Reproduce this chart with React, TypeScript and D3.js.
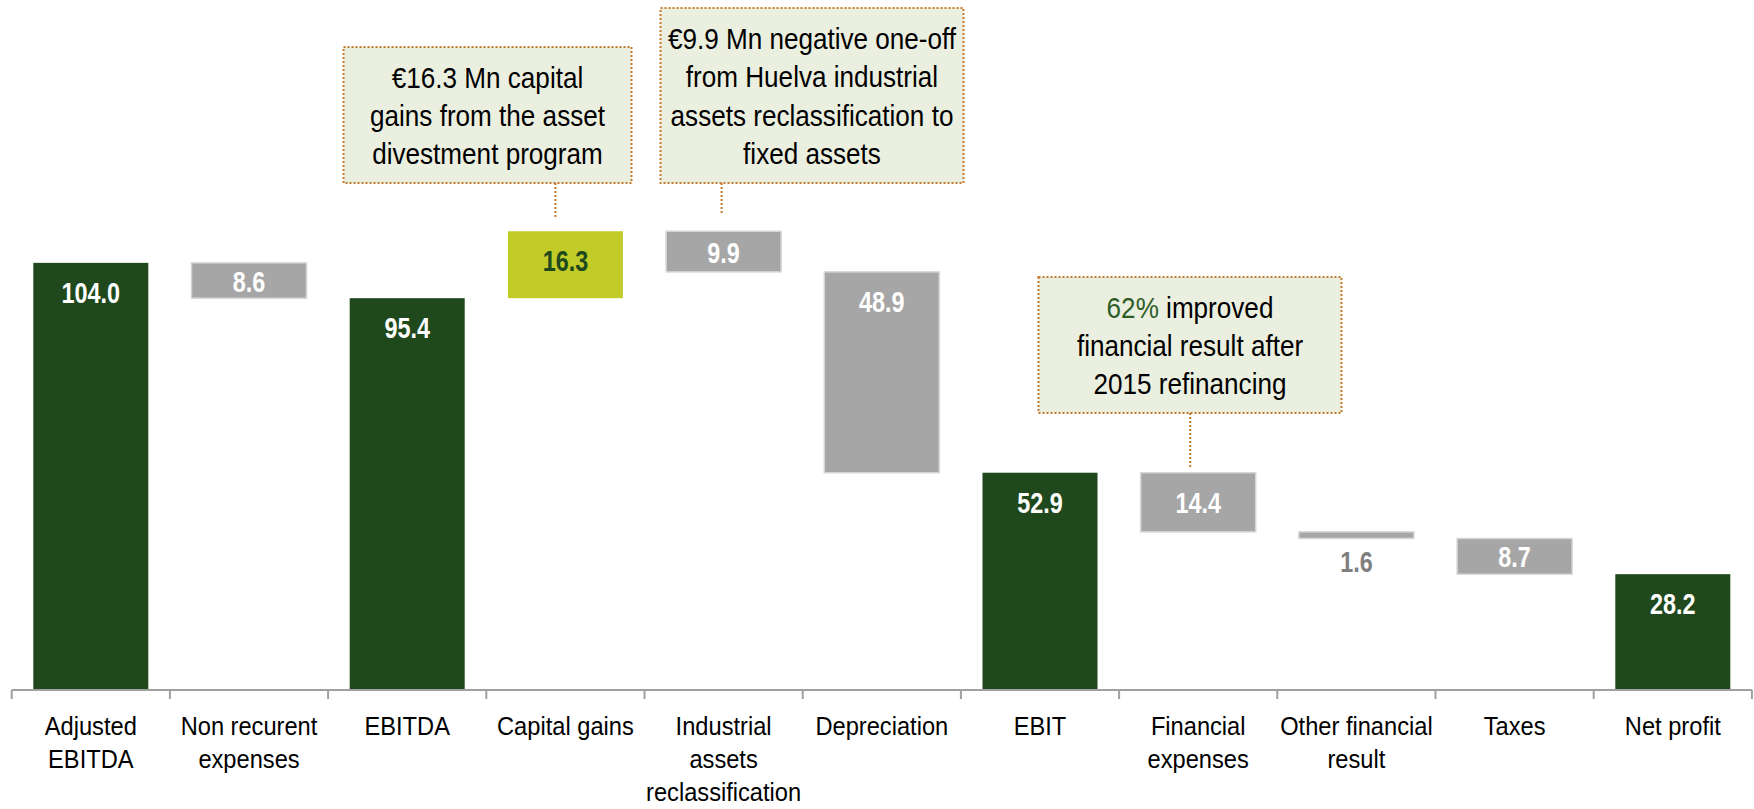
import * as d3 from 'd3';
import type { ReactNode } from 'react';

const W = 1754;
const H = 809;

const categories = [
  ['Adjusted', 'EBITDA'],
  ['Non recurent', 'expenses'],
  ['EBITDA'],
  ['Capital gains'],
  ['Industrial', 'assets', 'reclassification'],
  ['Depreciation'],
  ['EBIT'],
  ['Financial', 'expenses'],
  ['Other financial', 'result'],
  ['Taxes'],
  ['Net profit'],
];
const values = [104.0, -8.6, 95.4, 16.3, -9.9, -48.9, 52.9, -14.4, -1.6, -8.7, 28.2];
const kinds = ['total', 'neg', 'total', 'pos', 'neg', 'neg', 'total', 'neg', 'neg', 'neg', 'total'];

const notes = [
  { cat: 3, lines: [['€16.3 Mn capital'], ['gains from the asset'], ['divestment program']] },
  { cat: 4, lines: [['€9.9 Mn negative one-off'], ['from Huelva industrial'], ['assets reclassification to'], ['fixed assets']] },
  { cat: 7, lines: [['62%', ' improved'], ['financial result after'], ['2015 refinancing']] },
];
// box layout (px) for each note: centre x, width, top, bottom, connector x shift, gap to bar
const noteBoxes = [
  { cx: 487.5, w: 288, top: 47, bottom: 183, dx: -10, gap: 14 },
  { cx: 812, w: 303, top: 8, bottom: 183, dx: -2, gap: 18 },
  { cx: 1190, w: 303, top: 277, bottom: 413, dx: -8, gap: 5 },
];

const COL = { total: '#1f491d', pos: '#c2cc29', neg: '#a6a6a6' };
const FONT = "'Liberation Sans', Arial, sans-serif";

// narrow text: Liberation Sans squeezed horizontally
function Narrow({ x, y, sx, children, ...rest }: { x: number; y: number; sx: number; children: ReactNode; [k: string]: any }) {
  return (
    <g transform={`translate(${x},${y}) scale(${sx},1)`}>
      <text x={0} y={0} textAnchor="middle" {...rest}>{children}</text>
    </g>
  );
}

export default function App() {
  const keys = categories.map((c) => c.join(' '));
  const x = d3.scaleBand().domain(keys).range([11.7, 1751.9]).paddingInner(0.273).paddingOuter(0.1365);
  const y = d3.scaleLinear().domain([0, 168]).range([690, 0]);
  const step = x.step();
  const x0 = 11.7;
  const cx = (k: string) => (x(k) ?? 0) + x.bandwidth() / 2;

  let run = 0;
  const bars = values.map((v, i) => {
    let a: number, b: number;
    if (kinds[i] === 'total') { a = 0; b = v; run = v; }
    else { a = run; b = run + v; run = b; }
    const top = y(Math.max(a, b));
    const bot = y(Math.min(a, b));
    return { key: keys[i], v, kind: kinds[i], top, bot, h: bot - top };
  });

  return (
    <svg width={W} height={H} style={{ position: 'absolute', left: 0, top: 0, background: '#fff' }} fontFamily={FONT}>
      {bars.map((d, i) => (
        <rect key={'b' + i} x={x(d.key)} y={d.top} width={x.bandwidth()} height={Math.max(d.h, 1)}
          fill={COL[d.kind as keyof typeof COL]}
          stroke={d.kind === 'neg' ? '#d6d6d6' : 'none'} strokeWidth={1.5} />
      ))}
      {bars.map((d, i) => {
        const small = d.h < 20;
        const ty = small ? d.bot + 34 : d.top + Math.min(40, d.h / 2 + 11);
        const fill = small ? '#7f7f7f' : d.kind === 'pos' ? '#1f491d' : '#fff';
        return (
          <Narrow key={'l' + i} x={cx(d.key)} y={ty} sx={0.78} fontSize={30} fontWeight="bold" fill={fill}>
            {Math.abs(d.v).toFixed(1)}
          </Narrow>
        );
      })}
      {/* axis */}
      <line x1={x0} x2={x0 + step * keys.length} y1={690} y2={690} stroke="#a0a0a0" strokeWidth={2} />
      {d3.range(keys.length + 1).map((i) => (
        <line key={'t' + i} x1={x0 + i * step} x2={x0 + i * step} y1={690} y2={699} stroke="#a0a0a0" strokeWidth={2} />
      ))}
      {categories.map((lines, i) => (
        <Narrow key={'c' + i} x={cx(keys[i])} y={735} sx={0.91} fontSize={26} fill="#000">
          {lines.map((ln, j) => (
            <tspan key={j} x={0} dy={j === 0 ? 0 : 33}>{ln}</tspan>
          ))}
        </Narrow>
      ))}
      {/* annotations */}
      {notes.map((n, k) => {
        const b = noteBoxes[k];
        const bar = bars[n.cat];
        const lx = cx(bar.key) + b.dx;
        const mid = (b.top + b.bottom) / 2;
        const lh = 38.5;
        const first = mid - ((n.lines.length - 1) * lh) / 2 + 11;
        return (
          <g key={'n' + k}>
            <line x1={lx} x2={lx} y1={b.bottom} y2={bar.top - b.gap} stroke="#c47a2c" strokeWidth={2} strokeDasharray="2 2" />
            <rect x={b.cx - b.w / 2} y={b.top} width={b.w} height={b.bottom - b.top}
              fill="#ebefdf" stroke="#c47a2c" strokeWidth={2} strokeDasharray="2 2" />
            <Narrow x={b.cx} y={first} sx={0.87} fontSize={30} fill="#000">
              {n.lines.map((ln, j) => (
                <tspan key={j} x={0} y={j * lh}>
                  {ln.length > 1 ? (<><tspan fill="#2e5e27">{ln[0]}</tspan>{ln[1]}</>) : ln[0]}
                </tspan>
              ))}
            </Narrow>
          </g>
        );
      })}
    </svg>
  );
}
